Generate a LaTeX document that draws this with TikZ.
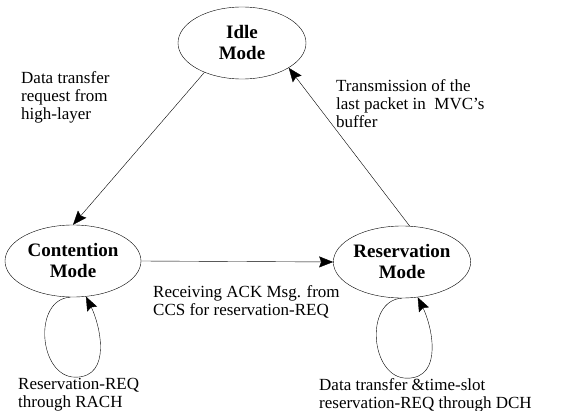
\documentclass[tikz,border=0pt]{standalone}
\usepackage{fontspec}
\setmainfont{Liberation Serif}
\usetikzlibrary{arrows.meta,shapes.geometric,positioning}

\begin{document}
\begin{tikzpicture}[x=1pt,y=-1pt,>={Stealth[length=14pt,width=11pt,inset=2pt]},->]
\tikzstyle{toestand} = [draw, ellipse, inner sep=0pt, minimum height=72pt, align=center, font=\fontsize{19}{21}\selectfont\bfseries]
\tikzstyle{uitleg} = [inner sep=0pt, anchor=north west, align=left, font=\fontsize{17}{18}\selectfont]
\useasboundingbox (0,0) rectangle (564,411);

\node [toestand, minimum width=128pt] (idle) at (242,43) {Idle\\Mode};
\node [toestand, minimum width=136pt] (contention) at (73,261) {Contention\\Mode};
\node [toestand, minimum width=113pt] (reservation) at (402,262) {Reservation\\Mode};

\draw (idle.218) -- (contention.north);
\draw (reservation.78) -- (idle.-28);
\draw (contention.east) -- (reservation.west);

% self loops
\draw (contention.266) .. controls +(-38,2) and +(-37,0) .. ++(5,80)
      .. controls +(37,0) and +(14,28) .. (contention.290);
\draw (reservation.270) .. controls +(-38,2) and +(-37,0) .. ++(5,80)
      .. controls +(37,0) and +(14,28) .. (reservation.294);

\node [uitleg] (lblrequest) at (21,71) {Data transfer\\request from\\high-layer};
\node [uitleg] (lbllast) at (336,79) {Transmission of the\\last packet in\ \ MVC's\\buffer};
\node [uitleg] (lblack) at (153,285) {Receiving ACK Msg. from\\CCS for reservation-REQ};
\node [uitleg] (lblrach) at (18,378) {Reservation-REQ\\through RACH};
\node [uitleg] (lbldch) at (319,378) {Data transfer \&time-slot\\reservation-REQ through DCH};
\end{tikzpicture}
\end{document}
